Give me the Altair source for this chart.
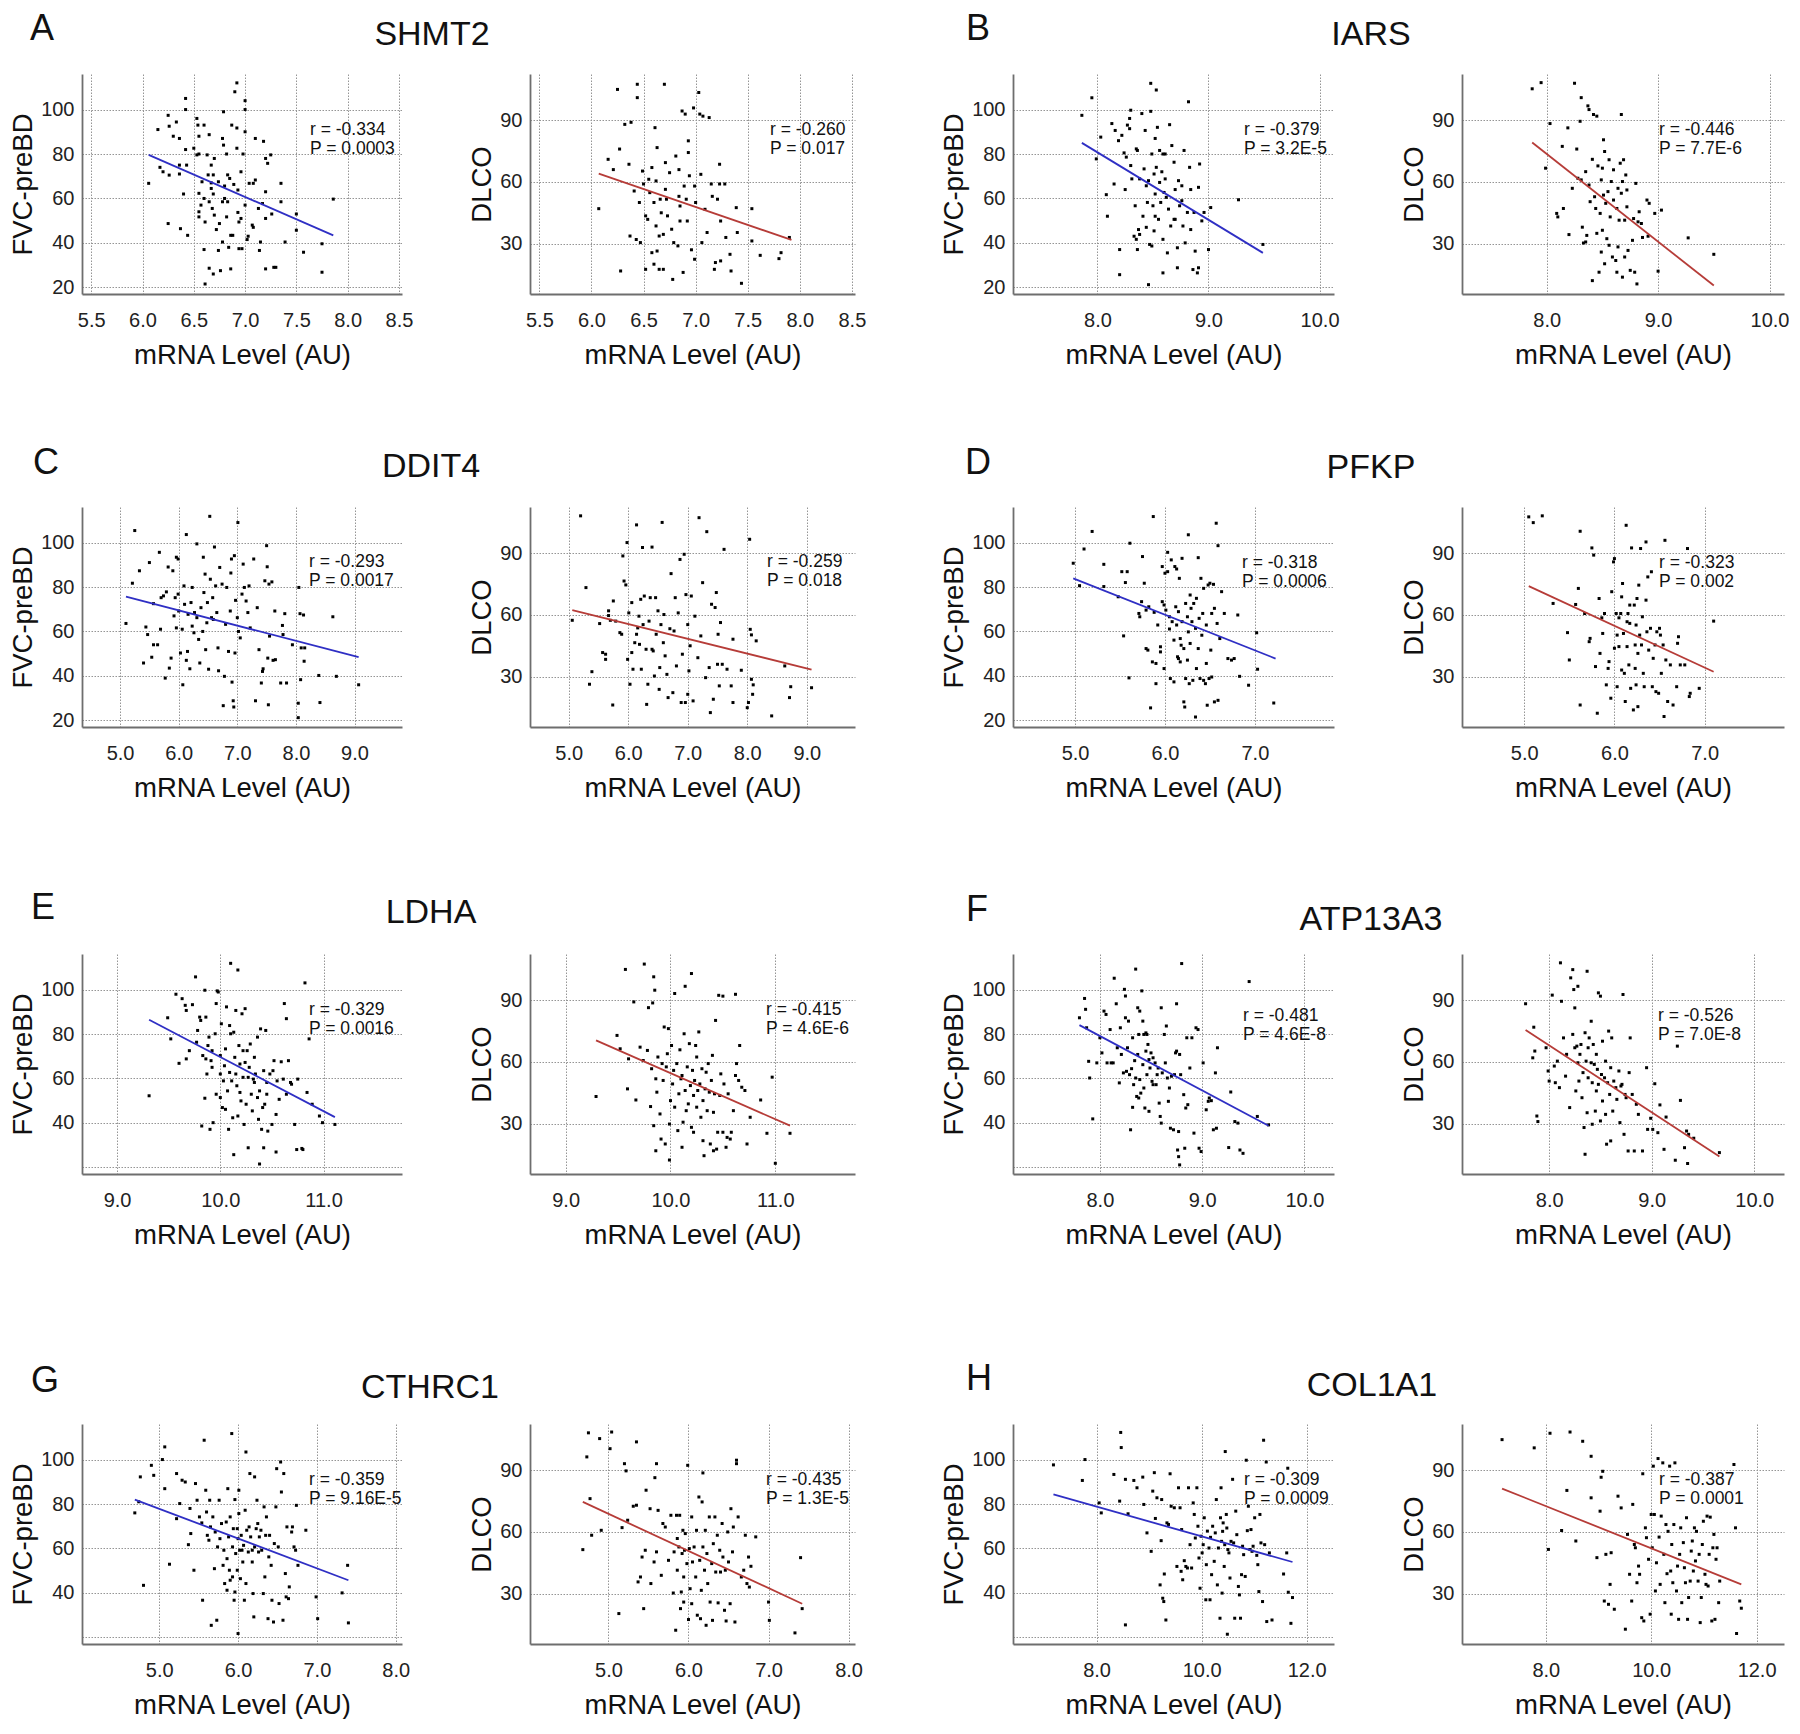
import altair as alt
import pandas as pd

FONT = "Liberation Sans"

# ---------------- values: (mRNA level, FVC-preBD / DLCO) ----------------
A_FVC = [(6.06,66.8),(6.15,91),(6.17,74),(6.2,72),(6.25,97.4),(6.26,92.5),(6.26,70.5),(6.25,48.7),(6.3,88),(6.33,94.4),(6.36,87),(6.36,75),(6.36,71),(6.37,46.4),(6.4,62),(6.42,105),(6.42,100),(6.42,82),(6.43,75),(6.44,43.4),(6.5,82.6),(6.53,96),(6.53,79.6),(6.54,93),(6.55,88),(6.55,80),(6.55,62.3),(6.55,54),(6.55,51.7),(6.57,57),(6.58,67.5),(6.6,93),(6.6,60),(6.6,37),(6.61,21.5),(6.61,49.4),(6.63,79.6),(6.64,70.6),(6.65,28.6),(6.65,88.7),(6.65,58.5),(6.67,75),(6.67,67),(6.67,64.5),(6.68,55.5),(6.69,26),(6.69,70.6),(6.69,62),(6.7,78),(6.7,52.5),(6.72,46),(6.74,36.6),(6.74,67.5),(6.75,48.7),(6.76,27.5),(6.78,87),(6.78,58.5),(6.78,40.4),(6.79,84),(6.79,99),(6.8,65.6),(6.8,60),(6.82,51.7),(6.82,80),(6.83,70.6),(6.83,58.5),(6.84,38),(6.85,69),(6.86,43.4),(6.86,28.3),(6.87,93),(6.88,43.4),(6.89,66.3),(6.9,108),(6.92,112),(6.92,91.7),(6.92,82.6),(6.93,63.8),(6.93,53.7),(6.94,37.4),(6.94,49.4),(6.96,72),(6.96,51),(6.97,37.4),(6.98,80),(7.0,104),(7.0,100),(7.0,90),(7.0,57),(7.02,41.5),(7.03,43),(7.04,66.8),(7.07,48),(7.08,66.8),(7.08,47),(7.1,87),(7.1,68.3),(7.13,55.5),(7.14,36.6),(7.15,40.4),(7.17,57.7),(7.18,85.7),(7.2,78),(7.2,63),(7.2,51),(7.2,28.3),(7.22,75.8),(7.25,79.6),(7.26,53),(7.28,29),(7.3,29),(7.35,66.8),(7.35,58.5),(7.39,40.4),(7.5,53),(7.5,45.7),(7.57,35.8),(7.75,39.6),(7.75,26.8),(7.86,59.7)]
A_DLCO = [(6.07,47),(6.16,71),(6.21,66),(6.25,105),(6.27,76),(6.28,16.7),(6.32,88),(6.36,68.6),(6.37,33.7),(6.38,89),(6.41,55.6),(6.43,32),(6.44,101),(6.44,107.5),(6.46,50),(6.47,30.5),(6.49,65.3),(6.5,59),(6.52,17.5),(6.52,43.5),(6.54,41.8),(6.55,61.3),(6.56,54.8),(6.58,67),(6.58,25.6),(6.6,20),(6.6,50),(6.61,86.4),(6.62,38.6),(6.62,60.5),(6.63,76.7),(6.63,26.4),(6.65,33.7),(6.65,17.5),(6.66,51.6),(6.67,45),(6.69,17.5),(6.69,34.5),(6.7,107.5),(6.71,69.4),(6.71,56.4),(6.72,51.6),(6.73,43.5),(6.75,64.5),(6.77,37),(6.78,12.6),(6.79,30.5),(6.81,72.6),(6.83,28.9),(6.84,66),(6.84,53),(6.85,48.3),(6.85,41),(6.87,94.5),(6.88,16),(6.89,58),(6.9,93),(6.91,51.6),(6.92,41),(6.93,80),(6.93,74.3),(6.94,63),(6.96,27),(6.98,96),(6.99,22.4),(6.99,58),(7.0,50),(7.03,103.5),(7.04,93),(7.05,63.7),(7.06,30.5),(7.07,92),(7.09,46.7),(7.11,35.4),(7.13,91.3),(7.15,59),(7.16,53),(7.18,17.5),(7.19,20.8),(7.21,51.6),(7.23,59),(7.23,68.6),(7.24,21.6),(7.24,41),(7.28,59),(7.29,33),(7.33,24.8),(7.34,16.7),(7.39,47.5),(7.4,35.4),(7.44,10.7),(7.54,47),(7.54,31.3),(7.62,24.3),(7.8,22.7),(7.82,25.6),(7.9,33)]
B_FVC = [(7.86,97.4),(7.95,105.3),(7.99,77.8),(8.03,87.6),(8.08,61.7),(8.09,52),(8.13,93.7),(8.15,66.5),(8.16,90.6),(8.19,86),(8.2,37),(8.2,25.7),(8.22,88.4),(8.24,80.5),(8.25,64),(8.26,78.6),(8.27,93),(8.29,91.4),(8.29,96),(8.3,99.7),(8.3,74.8),(8.31,68.8),(8.33,43),(8.34,56.7),(8.35,41.6),(8.35,82.3),(8.36,81.6),(8.36,37),(8.37,46),(8.38,68.8),(8.38,43.8),(8.4,98.2),(8.41,52),(8.42,73.3),(8.43,90.6),(8.44,65.7),(8.44,47),(8.45,58.2),(8.46,21.2),(8.46,68),(8.47,39.3),(8.48,99.2),(8.48,111.8),(8.49,38.6),(8.49,80),(8.5,56.7),(8.51,71),(8.51,45.4),(8.52,62),(8.52,52),(8.52,87),(8.53,108.8),(8.53,74),(8.54,92),(8.55,50.6),(8.56,81.6),(8.56,67.2),(8.57,58.2),(8.58,72),(8.59,26.5),(8.59,80),(8.59,41.6),(8.6,62.7),(8.61,80),(8.61,68.8),(8.62,60.5),(8.63,35.5),(8.64,55.2),(8.65,93.2),(8.66,47.6),(8.67,83.8),(8.69,76.3),(8.69,50.6),(8.7,64),(8.7,50.6),(8.72,28.8),(8.72,37.8),(8.73,68),(8.74,56.7),(8.76,65.7),(8.76,59),(8.77,47.6),(8.78,81.6),(8.79,40),(8.81,53.7),(8.82,103.5),(8.83,74),(8.84,46),(8.84,64),(8.86,28),(8.87,53.7),(8.88,36.3),(8.9,26.5),(8.91,28.8),(8.91,65),(8.92,75.5),(8.94,49.9),(8.96,53.7),(9.0,37),(9.02,55.9),(9.27,59.4),(9.49,39.3)]
B_DLCO = [(7.87,105.3),(7.95,108.3),(7.99,66.7),(8.03,88.4),(8.09,44.7),(8.1,43),(8.14,77.3),(8.15,47.1),(8.19,86.3),(8.2,34.4),(8.23,56.9),(8.25,108),(8.27,76),(8.28,61.8),(8.3,89.5),(8.31,101),(8.31,61),(8.32,38),(8.33,30.3),(8.35,65),(8.35,30.8),(8.36,34),(8.37,97),(8.38,58.5),(8.38,95.2),(8.39,50.4),(8.41,12),(8.41,71),(8.42,92.8),(8.43,52.8),(8.44,47.1),(8.45,92),(8.45,35),(8.46,67.8),(8.47,16.1),(8.48,44.7),(8.49,61),(8.49,25.9),(8.5,36.5),(8.5,66.7),(8.51,53.6),(8.51,80.5),(8.52,74.8),(8.52,20.2),(8.53,49.6),(8.54,32.4),(8.55,55.3),(8.56,70.8),(8.56,29.2),(8.57,43),(8.58,60.2),(8.59,23.5),(8.6,51.2),(8.6,65.9),(8.62,21.8),(8.63,47.1),(8.63,16.1),(8.64,56.9),(8.64,28.4),(8.65,41.4),(8.66,69.1),(8.67,54.5),(8.67,92.8),(8.68,13.7),(8.68,60.2),(8.69,70.8),(8.7,41.4),(8.7,23.5),(8.71,63.4),(8.72,47.9),(8.72,56.1),(8.73,26.7),(8.75,17),(8.77,31.6),(8.78,42.2),(8.79,16.1),(8.8,59.3),(8.81,10.4),(8.82,40.6),(8.83,45.5),(8.85,39.8),(8.86,33),(8.9,51.2),(8.91,33.6),(8.92,49.6),(8.97,44.7),(9.0,16.6),(9.03,46.3),(9.27,32.8),(9.5,24.8)]
C_FVC = [(5.1,63.6),(5.21,81.7),(5.25,105.4),(5.33,87.3),(5.4,45.8),(5.44,62),(5.47,58.6),(5.5,91),(5.54,48.4),(5.57,72.5),(5.57,54),(5.64,54),(5.67,95.6),(5.69,61),(5.7,75.2),(5.74,76),(5.77,39),(5.79,77.8),(5.82,89),(5.84,43.5),(5.87,48),(5.9,87.3),(5.92,67),(5.94,75.2),(5.96,93.4),(5.96,61.6),(5.99,92.6),(5.99,76.8),(6.0,69.2),(6.03,50.3),(6.06,61),(6.07,36),(6.09,80.5),(6.1,72.2),(6.13,103.6),(6.13,47),(6.15,51),(6.16,67.7),(6.19,43.2),(6.21,73),(6.23,79.8),(6.23,62.4),(6.26,59.4),(6.27,68.5),(6.31,99.4),(6.31,66.2),(6.34,56.4),(6.36,45.8),(6.38,70.7),(6.41,60),(6.42,93.4),(6.43,77.5),(6.45,85.8),(6.46,51.8),(6.48,63.9),(6.49,73),(6.51,43),(6.53,111.8),(6.54,83.5),(6.56,66.2),(6.58,75.2),(6.59,65.4),(6.61,98),(6.63,80.5),(6.65,68.5),(6.67,52.6),(6.68,42.3),(6.7,88.8),(6.74,81.3),(6.76,26.6),(6.78,39.8),(6.8,63.2),(6.82,79.8),(6.85,51),(6.88,69.2),(6.89,86.3),(6.9,92.6),(6.91,37.2),(6.93,28.8),(6.94,26),(6.95,94.1),(6.96,50.3),(6.97,74),(7.0,66.2),(7.01,109),(7.02,60),(7.05,57.1),(7.08,76.8),(7.1,90.3),(7.12,79.8),(7.15,73.7),(7.18,68.5),(7.2,80.5),(7.22,61.6),(7.28,92.6),(7.31,28.8),(7.34,70.7),(7.37,51.8),(7.41,36.8),(7.43,42),(7.44,43.2),(7.47,82.8),(7.5,98.6),(7.51,89.1),(7.52,48),(7.53,27),(7.54,81.3),(7.55,57.9),(7.59,82.3),(7.61,47),(7.64,69.2),(7.65,47.3),(7.74,36.8),(7.77,62.7),(7.78,58.6),(7.81,68),(7.84,36.8),(7.94,54),(8.04,27.7),(8.04,21.2),(8.05,79.8),(8.07,68),(8.08,38.3),(8.09,52.6),(8.13,67.4),(8.14,46.6),(8.15,52.6),(8.39,40.2),(8.41,28),(8.63,66.6),(8.69,39.8),(9.07,36)]
C_DLCO = [(5.06,57.4),(5.2,108.2),(5.29,73.3),(5.35,26.3),(5.39,32.4),(5.52,55.8),(5.57,41.7),(5.62,38.4),(5.62,40.9),(5.67,62),(5.67,59.7),(5.7,57.4),(5.74,16.2),(5.75,66.8),(5.79,57),(5.86,51.4),(5.89,50.6),(5.91,88.7),(5.93,76.5),(5.96,74.6),(5.98,95.2),(5.99,38.4),(6.01,61),(6.03,26.3),(6.06,41.7),(6.06,66),(6.08,33.6),(6.11,46.5),(6.14,50.6),(6.14,103.8),(6.16,53.7),(6.18,59.4),(6.19,45.7),(6.21,67.6),(6.22,33.6),(6.24,92.8),(6.25,55.3),(6.27,69.2),(6.3,43.3),(6.31,16.5),(6.33,26.3),(6.35,57),(6.37,68.4),(6.4,93),(6.4,43.3),(6.42,42.5),(6.44,30.3),(6.46,68.4),(6.47,50.6),(6.5,62),(6.52,23.8),(6.53,34.4),(6.55,55.3),(6.57,105),(6.59,46.5),(6.6,60.2),(6.62,40.1),(6.65,31.1),(6.67,19.8),(6.7,53.3),(6.72,80.1),(6.75,22.2),(6.77,52.2),(6.79,68.4),(6.81,35.2),(6.84,61),(6.87,87),(6.89,17.4),(6.91,40.9),(6.94,89.5),(6.96,17.4),(6.97,69.9),(7.0,55.3),(7.0,21.4),(7.02,32.8),(7.04,45),(7.06,69.2),(7.09,18.2),(7.12,59.4),(7.17,39.2),(7.19,107.3),(7.22,49.8),(7.25,75.7),(7.3,29.5),(7.32,100.5),(7.36,34.4),(7.38,12.5),(7.4,65.2),(7.43,19),(7.46,63.6),(7.48,70.9),(7.5,36),(7.51,50.6),(7.53,25.5),(7.55,56.3),(7.58,36),(7.61,91.9),(7.66,33.6),(7.73,25.5),(7.76,17.4),(7.76,48.2),(7.9,33.1),(8.0,14.9),(8.02,17.4),(8.04,96.8),(8.05,53),(8.07,50.3),(8.07,28.7),(8.09,21.4),(8.1,26),(8.15,47.4),(8.41,10.9),(8.63,35.2),(8.71,19.8),(8.73,25.1),(9.08,24.6)]
D_FVC = [(4.98,90.7),(5.05,80.6),(5.1,97.1),(5.19,105),(5.32,90.2),(5.32,80.2),(5.48,75.6),(5.52,86.9),(5.54,58),(5.56,82),(5.58,86.9),(5.6,39.1),(5.61,99.7),(5.71,68.1),(5.72,66.6),(5.74,73.4),(5.75,93.7),(5.77,81.7),(5.79,52.3),(5.79,69.6),(5.81,51.6),(5.82,71.1),(5.84,25.6),(5.86,46.3),(5.87,111.7),(5.88,68.6),(5.9,36.5),(5.9,45.6),(5.92,62.9),(5.95,53.1),(5.95,50.8),(5.97,73.4),(5.97,89.2),(5.99,71.9),(5.99,43.3),(6.0,86.2),(6.01,69.6),(6.03,86.9),(6.03,95.6),(6.05,66.6),(6.05,61.1),(6.06,38.8),(6.07,92.2),(6.08,64.4),(6.1,37.3),(6.1,56.1),(6.11,89.2),(6.12,71.1),(6.13,88.1),(6.13,62.9),(6.14,48.6),(6.15,47.8),(6.15,68.9),(6.16,83.9),(6.17,56.8),(6.17,46.3),(6.18,53.8),(6.19,92.9),(6.19,64.4),(6.21,28.3),(6.21,52.3),(6.22,26.0),(6.23,72.6),(6.23,38.8),(6.25,66.6),(6.25,47.1),(6.26,103.5),(6.26,59.8),(6.27,36.5),(6.28,76.4),(6.28,54.6),(6.29,70.4),(6.3,64.4),(6.31,38),(6.32,72.6),(6.34,61.4),(6.34,21.5),(6.35,43.3),(6.35,74.9),(6.37,93.2),(6.37,52.3),(6.38,65.9),(6.39,38.8),(6.4,83.9),(6.41,58.3),(6.42,68.1),(6.43,79.4),(6.43,38),(6.45,36.5),(6.46,62.9),(6.46,45.6),(6.47,26.8),(6.48,80.9),(6.49,38.8),(6.5,81.7),(6.51,51.6),(6.52,68.1),(6.52,39.5),(6.54,81.2),(6.55,28.3),(6.55,70.4),(6.57,108.7),(6.58,63.6),(6.59,98.6),(6.59,29),(6.61,56.8),(6.63,77.9),(6.66,68.1),(6.7,47.8),(6.74,47.1),(6.77,47.8),(6.81,67.4),(6.83,39.8),(6.93,35.8),(7.02,59.4),(7.03,43),(7.21,27.8)]
D_DLCO = [(5.05,107.7),(5.1,104.9),(5.2,108.2),(5.32,65.6),(5.48,51.4),(5.5,38.1),(5.57,65.1),(5.6,72.9),(5.62,16.2),(5.62,100.7),(5.67,60.7),(5.72,47),(5.73,48.6),(5.75,92.6),(5.77,89.1),(5.79,34.9),(5.81,12.2),(5.83,68),(5.84,41.3),(5.86,58.6),(5.87,51),(5.89,60.7),(5.91,26),(5.93,34),(5.94,37.3),(5.96,19.5),(5.97,71.3),(5.99,85.8),(6.0,43.8),(6.0,87.4),(6.02,60.7),(6.03,25.1),(6.03,50.2),(6.05,58.6),(6.05,44.6),(6.07,60.7),(6.08,68.8),(6.08,33.2),(6.09,75.3),(6.1,51),(6.11,31.6),(6.12,17.9),(6.13,103.6),(6.14,56.7),(6.14,44.6),(6.15,60.7),(6.16,35.7),(6.17,55.9),(6.17,64.8),(6.18,24.3),(6.19,92.6),(6.21,13.8),(6.22,64.8),(6.23,34),(6.23,45.4),(6.24,26),(6.24,55.1),(6.25,68),(6.26,41.3),(6.26,15.4),(6.27,74.5),(6.28,50.2),(6.29,92.3),(6.3,45.4),(6.31,59.1),(6.32,31.6),(6.33,25.1),(6.35,67.2),(6.35,95.5),(6.36,51.8),(6.37,78.5),(6.38,42.9),(6.4,53.5),(6.41,81),(6.42,25.1),(6.43,38.9),(6.45,45.4),(6.46,22.7),(6.47,51.8),(6.49,21.9),(6.5,53.5),(6.51,50.2),(6.52,31.6),(6.54,45.4),(6.55,10.6),(6.56,96.3),(6.57,38.1),(6.59,17.9),(6.62,35.7),(6.65,16.2),(6.69,25.1),(6.7,46.2),(6.71,49.4),(6.73,35.7),(6.78,35.7),(6.81,92.3),(6.83,20.3),(6.84,21.9),(6.94,24.3),(7.1,57)]
E_FVC = [(9.31,52.2),(9.49,87.3),(9.52,77.8),(9.57,97.9),(9.6,66.8),(9.63,95.9),(9.66,92.9),(9.67,90.6),(9.67,68.8),(9.7,72.5),(9.73,93.2),(9.76,105.7),(9.77,76.3),(9.78,81.6),(9.8,87.6),(9.81,86.1),(9.82,38.6),(9.83,70.3),(9.85,99.7),(9.85,51.1),(9.86,87.6),(9.86,68.8),(9.87,62),(9.88,74.8),(9.89,78.6),(9.9,37.1),(9.91,68),(9.92,72.5),(9.92,65),(9.93,40.1),(9.95,80.1),(9.96,52.9),(9.96,93.7),(9.97,99.4),(9.98,98.9),(10.0,62),(10.0,70.3),(10.0,51.4),(10.01,84.6),(10.02,46.9),(10.03,58.9),(10.04,65.7),(10.05,73.3),(10.05,46.1),(10.06,92.2),(10.07,54.4),(10.08,37.1),(10.09,83.8),(10.09,62.7),(10.1,111.8),(10.1,80.1),(10.11,58.9),(10.12,42.3),(10.13,25.7),(10.13,80.8),(10.14,69.5),(10.15,90.6),(10.15,62),(10.16,56.7),(10.17,43.1),(10.17,108.8),(10.18,74.8),(10.19,66.5),(10.19,53.7),(10.2,49.9),(10.21,89.1),(10.22,72.5),(10.22,60.5),(10.23,39.3),(10.24,91.4),(10.24,67.2),(10.25,48.4),(10.26,72.5),(10.27,28.8),(10.27,60.5),(10.28,65),(10.29,75.5),(10.3,52.9),(10.31,45.4),(10.32,59.7),(10.33,69.5),(10.33,58.2),(10.34,62),(10.36,78.6),(10.36,51.4),(10.37,41.6),(10.38,54.4),(10.38,21.5),(10.39,82.3),(10.4,37.1),(10.41,46.9),(10.42,28.8),(10.42,63.5),(10.43,48.4),(10.44,81.6),(10.45,52.9),(10.45,58.2),(10.46,36.3),(10.48,62),(10.5,39.3),(10.51,63.5),(10.52,68),(10.54,26.9),(10.54,43.8),(10.55,58.9),(10.57,50.6),(10.59,67.5),(10.61,59.7),(10.62,93.7),(10.64,86.9),(10.64,52.9),(10.66,68),(10.68,58.2),(10.69,57.4),(10.72,39.3),(10.74,28),(10.75,59.7),(10.79,28.5),(10.8,28),(10.82,103),(10.84,53.7),(10.86,77.8),(10.89,48.4),(10.96,43.1),(10.99,40.1),(11.11,39.3)]
E_DLCO = [(9.29,43.2),(9.49,72.9),(9.52,66.4),(9.57,105),(9.59,46.9),(9.6,61.5),(9.65,89.2),(9.67,41.5),(9.71,67.2),(9.74,60.7),(9.75,107.6),(9.78,65.6),(9.79,86.4),(9.81,38.3),(9.82,56.7),(9.83,88.7),(9.84,29),(9.84,101.4),(9.85,94.9),(9.86,16.8),(9.86,51.8),(9.87,45.3),(9.88,62.4),(9.9,34.7),(9.91,22.5),(9.92,59.2),(9.93,51),(9.94,77),(9.95,20.1),(9.96,57.6),(9.97,64),(9.98,76.2),(9.99,29.8),(9.99,12.3),(10.0,41.2),(10.01,68),(10.02,49.3),(10.03,55.9),(10.04,38),(10.04,93.3),(10.06,59.2),(10.07,26.6),(10.08,44.5),(10.09,65.9),(10.1,51.8),(10.11,18.5),(10.11,53.4),(10.12,30.7),(10.13,73.7),(10.14,96.8),(10.14,46.1),(10.15,36.3),(10.16,57.6),(10.17,39.6),(10.18,68.9),(10.19,48.5),(10.2,103),(10.2,28.2),(10.21,55.9),(10.22,43.7),(10.22,25.8),(10.23,51),(10.24,68),(10.25,38),(10.25,62.4),(10.26,46.1),(10.27,74.6),(10.28,49.3),(10.29,33.1),(10.3,56.7),(10.31,21.7),(10.31,41.2),(10.32,14.4),(10.33,46.9),(10.34,55),(10.35,36.3),(10.36,59.2),(10.37,45.3),(10.38,20.1),(10.39,51),(10.4,63.2),(10.41,16.8),(10.41,35.5),(10.42,44.5),(10.43,80.2),(10.44,17.6),(10.45,25.8),(10.46,92.4),(10.47,43.7),(10.48,54.2),(10.5,25.8),(10.5,92),(10.51,49.3),(10.53,18.5),(10.54,23.3),(10.55,44.5),(10.57,22.5),(10.58,25.8),(10.6,36.3),(10.62,53.4),(10.62,92.9),(10.63,59.2),(10.65,51),(10.66,68),(10.68,47.7),(10.71,46.1),(10.73,20.1),(10.76,33.1),(10.86,41.5),(10.92,25.3),(10.97,52.6),(11.0,10.7),(11.14,25.3)]
F_FVC = [(7.8,87.3),(7.85,96),(7.86,91.1),(7.87,82.8),(7.89,67.7),(7.9,60.2),(7.93,41.8),(7.97,67),(8.0,78.3),(8.02,71.5),(8.04,90.3),(8.06,88.8),(8.07,67),(8.1,82),(8.11,67),(8.13,67),(8.14,105.1),(8.16,93.6),(8.17,73.8),(8.19,58),(8.2,82.8),(8.21,70.8),(8.23,62.5),(8.24,100.1),(8.25,97.1),(8.25,87.3),(8.26,63.2),(8.27,73.8),(8.28,85.8),(8.29,61.7),(8.3,36.9),(8.31,64.4),(8.32,78.3),(8.32,47),(8.33,57.2),(8.34,68),(8.35,60.2),(8.35,109.2),(8.36,51.9),(8.37,91.8),(8.37,70.8),(8.38,51.2),(8.38,79.8),(8.39,59.5),(8.39,90.3),(8.4,53.4),(8.41,99.4),(8.42,66.2),(8.42,85.8),(8.43,55.7),(8.43,79.8),(8.44,46.7),(8.45,72.3),(8.45,80.5),(8.46,61.7),(8.46,79.8),(8.47,75.3),(8.48,68.5),(8.48,45.2),(8.49,64.7),(8.5,71.5),(8.51,58.7),(8.52,69.3),(8.52,57.2),(8.54,67),(8.55,57.2),(8.56,61.7),(8.57,64.7),(8.58,48.9),(8.59,42.9),(8.6,91.8),(8.6,39.9),(8.61,62.5),(8.63,79.8),(8.64,67),(8.65,83.6),(8.66,60.2),(8.67,49.7),(8.68,55.7),(8.69,37.6),(8.7,61),(8.72,36.9),(8.73,61.7),(8.74,71.5),(8.75,93.6),(8.75,72.3),(8.76,27.8),(8.77,36.1),(8.77,24.8),(8.78,21.1),(8.78,70.8),(8.79,61.7),(8.8,111.7),(8.82,52.7),(8.83,28.6),(8.84,46.7),(8.85,78.3),(8.86,48.2),(8.88,64.7),(8.9,78.3),(8.92,35.4),(8.94,82.8),(8.96,82),(8.97,28.6),(8.99,27.1),(9.01,67),(9.04,45.9),(9.06,49.7),(9.07,51.2),(9.09,50),(9.11,36.9),(9.13,62.5),(9.14,37.6),(9.15,73.8),(9.26,28.9),(9.28,53.9),(9.32,40.6),(9.35,39.9),(9.37,27.8),(9.4,26.3),(9.46,103.6),(9.54,42.9),(9.65,39.1)]
F_DLCO = [(7.77,88.3),(7.84,62),(7.85,76.9),(7.86,65.3),(7.88,33.7),(7.89,31),(7.97,66.9),(7.99,55.6),(8.0,50.7),(8.03,92.5),(8.05,58),(8.06,49.9),(8.08,60.4),(8.1,47.5),(8.11,108.2),(8.12,89.5),(8.14,71.7),(8.16,53.1),(8.17,63.7),(8.2,37.8),(8.21,100.9),(8.23,104.9),(8.23,73.4),(8.24,95.2),(8.25,66.9),(8.25,86.3),(8.26,45.9),(8.27,67.7),(8.28,96.8),(8.28,59.6),(8.29,50.7),(8.3,63.7),(8.31,68.5),(8.32,42.6),(8.33,54.8),(8.34,28.1),(8.35,74.2),(8.35,15.1),(8.36,60.4),(8.37,104.1),(8.37,35.3),(8.38,66.9),(8.38,52.3),(8.39,71.7),(8.41,79.8),(8.41,59.6),(8.42,29.7),(8.42,49.9),(8.43,68.5),(8.44,58.8),(8.45,36.1),(8.46,45.9),(8.46,63.7),(8.47,56.4),(8.48,93.6),(8.48,49.1),(8.5,92),(8.5,31.3),(8.51,53.9),(8.52,70.1),(8.52,41),(8.54,52.3),(8.55,34.5),(8.55,60.4),(8.56,20),(8.57,49.9),(8.58,75),(8.59,44.2),(8.6,21.6),(8.6,57.2),(8.61,71.7),(8.62,36.1),(8.63,50.7),(8.65,47.5),(8.66,41.8),(8.68,55.6),(8.69,30.5),(8.7,48.3),(8.71,49.1),(8.72,92.8),(8.73,24.8),(8.74,44.2),(8.75,42.6),(8.77,16.7),(8.78,54.8),(8.79,71.7),(8.81,44.2),(8.83,16.7),(8.85,39.4),(8.87,34.5),(8.91,16.7),(8.95,57.2),(8.96,27.2),(8.99,32.6),(9.01,27.2),(9.03,49.4),(9.06,25.6),(9.08,39.1),(9.12,17.5),(9.14,33.2),(9.23,12.2),(9.25,67.7),(9.28,41.3),(9.32,18.3),(9.34,26.4),(9.35,10.6),(9.36,24.8),(9.41,22.9),(9.66,15.9)]
G_FVC = [(4.69,76),(4.74,81),(4.76,92.2),(4.8,43.4),(4.9,97.4),(4.93,92.9),(5.04,100),(5.07,105.7),(5.07,86.9),(5.13,52.9),(5.22,93.7),(5.22,73.4),(5.26,80.2),(5.29,90.7),(5.33,89.9),(5.37,61.7),(5.39,78),(5.4,66.7),(5.44,50.2),(5.46,89.2),(5.48,81.7),(5.51,74.2),(5.54,71.5),(5.55,36.7),(5.57,108.7),(5.59,86.2),(5.6,76.4),(5.61,65.9),(5.63,63.7),(5.64,81.7),(5.65,69.7),(5.66,25.4),(5.68,74.2),(5.7,50.9),(5.71,67.4),(5.73,27.7),(5.74,60.7),(5.76,81.7),(5.77,64.4),(5.79,71.2),(5.81,52.4),(5.82,59.2),(5.83,44.2),(5.85,71.9),(5.86,55.4),(5.86,41.2),(5.87,86.9),(5.88,65.2),(5.89,50.2),(5.9,74.2),(5.9,45.7),(5.92,111.7),(5.93,60.7),(5.93,47.2),(5.94,68.9),(5.95,36.7),(5.96,82),(5.96,40.4),(5.97,57.7),(5.99,68.9),(5.99,50.2),(6.0,21.7),(6.0,64.4),(6.01,86.2),(6.01,75.7),(6.02,59.2),(6.03,46.4),(6.04,65.9),(6.05,59.2),(6.06,53.9),(6.07,61.4),(6.08,36.7),(6.09,77.2),(6.1,103.4),(6.1,44.2),(6.11,68.2),(6.13,58.4),(6.14,69.7),(6.15,93.7),(6.16,65.2),(6.18,59.2),(6.18,53.9),(6.19,39.7),(6.2,29.2),(6.21,92.2),(6.21,60.7),(6.23,68.9),(6.24,81.7),(6.25,71.2),(6.26,58.4),(6.27,65.2),(6.29,68.2),(6.3,59.2),(6.32,39.7),(6.33,78.7),(6.34,47.2),(6.35,65.9),(6.36,74.2),(6.38,28.4),(6.39,56.2),(6.4,65.9),(6.42,52.4),(6.43,36.7),(6.45,26.9),(6.46,62.2),(6.48,78.7),(6.49,95.9),(6.51,60.7),(6.52,35.2),(6.54,98.9),(6.55,85.4),(6.57,27.7),(6.58,93.7),(6.6,48.7),(6.61,38.2),(6.62,69.7),(6.64,37.4),(6.65,42.7),(6.68,67.4),(6.69,69.7),(6.71,60.7),(6.73,59.2),(6.74,79.4),(6.76,52.4),(6.86,68.2),(6.99,38.2),(7.01,28.4),(7.32,40),(7.39,52.4),(7.4,26.5)]
G_DLCO = [(4.68,51.4),(4.73,96.5),(4.75,108.2),(4.77,76.2),(4.79,58.4),(4.89,105.4),(4.91,60.8),(5.02,100.5),(5.04,108.6),(5.13,20.3),(5.17,62.1),(5.2,93.2),(5.22,89.7),(5.24,65.7),(5.31,72.5),(5.35,103.8),(5.35,73),(5.37,35.7),(5.4,38.1),(5.42,47.8),(5.44,22.7),(5.46,51.1),(5.47,80.3),(5.52,71.3),(5.53,34.9),(5.57,45.4),(5.58,86.4),(5.6,93.2),(5.6,50.3),(5.62,70.5),(5.66,38.9),(5.68,64.1),(5.71,62.4),(5.75,46.2),(5.78,68.1),(5.81,30.3),(5.82,50.3),(5.84,12.2),(5.85,68.1),(5.86,41.4),(5.86,56.8),(5.88,52.7),(5.89,68.1),(5.9,22.7),(5.91,30.8),(5.92,49.5),(5.93,60.8),(5.94,25.9),(5.94,38.1),(5.95,51.1),(5.96,59.2),(5.98,44.6),(5.99,92.4),(6.0,17.4),(6.01,51.9),(6.02,32.4),(6.04,67.3),(6.04,25.1),(6.05,45.4),(6.07,52.7),(6.09,38.1),(6.1,60.8),(6.11,19.5),(6.13,77),(6.14,46.2),(6.15,17.8),(6.16,31.6),(6.17,74.6),(6.18,88.7),(6.18,52.7),(6.2,41.4),(6.21,60.8),(6.22,14.6),(6.23,49.5),(6.24,34.9),(6.26,67.3),(6.27,25.9),(6.29,44.6),(6.3,17),(6.31,54.3),(6.33,67.3),(6.34,40.5),(6.36,58.4),(6.37,25.5),(6.39,51.1),(6.4,40.5),(6.42,64.1),(6.43,47.8),(6.45,21.9),(6.46,41.4),(6.47,16.7),(6.49,60),(6.5,45.4),(6.52,25.1),(6.53,71.3),(6.55,50.3),(6.56,62.4),(6.58,16.2),(6.6,93.2),(6.6,94.9),(6.62,67.3),(6.66,38.1),(6.69,41.4),(6.71,58.4),(6.73,34.9),(6.75,47.8),(6.76,33.2),(6.78,43.3),(6.84,57.6),(7.0,25.9),(7.01,17),(7.33,10.9),(7.4,47.5),(7.42,22.7)]
H_FVC = [(7.18,97.6),(7.73,90.6),(7.78,100),(8.05,80.5),(8.09,76),(8.33,93.3),(8.44,81.3),(8.46,112.2),(8.47,105.4),(8.55,91.1),(8.55,25.6),(8.6,75.6),(8.71,90.6),(8.77,87.3),(8.88,92.1),(8.9,79.8),(8.96,67),(9.04,58.7),(9.07,85.8),(9.1,94.1),(9.12,73.5),(9.15,82.8),(9.21,43.6),(9.23,63.5),(9.24,82),(9.26,37.6),(9.28,36.1),(9.29,48.5),(9.32,27.8),(9.34,71.5),(9.37,70.8),(9.4,93.6),(9.42,79),(9.48,78.3),(9.53,51.9),(9.56,87.3),(9.59,78.3),(9.61,49.7),(9.62,68.5),(9.64,45.9),(9.67,54.5),(9.7,51.9),(9.73,51.2),(9.75,87.3),(9.78,61.7),(9.81,51.2),(9.84,80.5),(9.86,75.3),(9.88,64.7),(9.91,87.3),(9.93,70),(9.95,55.7),(9.97,42.1),(9.99,65.5),(10.01,58),(10.03,61.7),(10.05,73.8),(10.08,36.9),(10.09,52.7),(10.11,67.8),(10.14,60.2),(10.16,36.9),(10.17,65),(10.19,48.2),(10.21,70),(10.24,54.2),(10.26,67),(10.28,82),(10.3,43.6),(10.32,60.2),(10.35,28.6),(10.36,73.8),(10.37,87.3),(10.38,63.2),(10.39,39.9),(10.4,67.7),(10.41,71.5),(10.43,51.9),(10.44,61.7),(10.45,103.6),(10.47,75.3),(10.48,69.2),(10.49,21.4),(10.5,59.5),(10.52,58),(10.54,46.7),(10.56,63.2),(10.59,91.1),(10.61,62.5),(10.63,28.6),(10.65,76.8),(10.67,66.2),(10.7,42.9),(10.72,39.1),(10.74,28.6),(10.76,48.2),(10.78,61),(10.8,57.2),(10.83,47.4),(10.85,99.7),(10.87,68),(10.89,79),(10.92,59.5),(10.94,68.5),(10.96,58.7),(10.98,61),(11.01,73.8),(11.05,56.9),(11.07,52.7),(11.09,40.6),(11.11,75.3),(11.13,62.5),(11.16,36.1),(11.18,108.7),(11.2,61.7),(11.23,98.9),(11.24,27.1),(11.29,58),(11.34,27.8),(11.56,48.5),(11.62,58),(11.64,96.1),(11.65,40.3),(11.7,26.3),(11.73,37.9)]
H_DLCO = [(7.17,104.9),(7.78,100.9),(8.05,51.5),(8.08,108),(8.3,60.7),(8.4,80.2),(8.46,108.6),(8.57,55.6),(8.7,104.1),(8.86,96.8),(8.86,76.6),(8.97,47.5),(9.03,70.1),(9.05,86.6),(9.08,89.5),(9.11,26.4),(9.14,49.1),(9.19,24.8),(9.22,34.5),(9.24,49.9),(9.3,22.4),(9.37,77.4),(9.43,71.7),(9.51,12.7),(9.55,58.8),(9.59,39.4),(9.63,26.4),(9.65,73.4),(9.68,53.9),(9.7,52.3),(9.73,35.3),(9.76,43.4),(9.78,39.4),(9.82,18.3),(9.84,88.3),(9.86,16.7),(9.89,62),(9.91,57.2),(9.95,46.7),(9.98,20),(10.0,68.5),(10.02,52.3),(10.04,92),(10.06,68.5),(10.08,31.3),(10.1,45),(10.13,95.7),(10.15,57.5),(10.17,34.5),(10.19,67.7),(10.22,93.6),(10.24,49.1),(10.26,25.6),(10.28,63.6),(10.3,39.7),(10.32,60.3),(10.35,92),(10.37,41),(10.38,20),(10.39,53.9),(10.41,35.3),(10.43,63.6),(10.45,93.6),(10.48,31.3),(10.5,43.4),(10.52,17.5),(10.54,49.1),(10.56,62),(10.58,25.6),(10.61,54.8),(10.63,42.6),(10.65,35.3),(10.67,66.9),(10.69,17.5),(10.71,28.1),(10.74,36.1),(10.76,50.7),(10.78,55.6),(10.8,41),(10.82,62),(10.84,45.9),(10.86,60.3),(10.89,36.1),(10.91,49.1),(10.93,15.9),(10.95,28.1),(10.97,53.9),(10.99,65.2),(11.02,39.4),(11.04,34.5),(11.06,67.7),(11.08,33.7),(11.1,49.1),(11.12,67.2),(11.15,16.7),(11.17,52.3),(11.19,58.8),(11.21,17.5),(11.23,46.7),(11.25,52.3),(11.28,25.6),(11.3,36.1),(11.57,92.8),(11.6,62),(11.62,10.6),(11.68,26.4),(11.71,22.9)]

# fitted lines, (x start, y start, x end, y end) for FVC and DLCO
FIT_FVC = {"A": (6.06,79.6,7.86,43.4), "B": (7.86,85,9.49,35.5), "C": (5.1,75.7,9.07,48.4), "D": (4.98,83.9,7.23,47.8),
           "E": (9.31,86.4,11.11,42.6), "F": (7.8,84,9.65,38.7), "G": (4.69,82,7.4,45.7), "H": (7.18,84.3,11.73,53.9)}
FIT_DLCO = {"A": (6.07,64,7.92,31.8), "B": (7.87,79.2,9.5,9.6), "C": (5.06,62.4,9.08,33.4), "D": (5.05,74,7.1,32.4),
            "E": (9.29,70.5,11.14,29), "F": (7.77,75.5,9.66,14), "G": (4.68,74.6,7.42,25.1), "H": (7.17,81.1,11.71,34.5)}
STAT_FVC = {"A": ("r = -0.334","P = 0.0003"), "B": ("r = -0.379","P = 3.2E-5"), "C": ("r = -0.293","P = 0.0017"),
            "D": ("r = -0.318","P = 0.0006"), "E": ("r = -0.329","P = 0.0016"), "F": ("r = -0.481","P = 4.6E-8"),
            "G": ("r = -0.359","P = 9.16E-5"), "H": ("r = -0.309","P = 0.0009")}
STAT_DLCO = {"A": ("r = -0.260","P = 0.017"), "B": ("r = -0.446","P = 7.7E-6"), "C": ("r = -0.259","P = 0.018"),
             "D": ("r = -0.323","P = 0.002"), "E": ("r = -0.415","P = 4.6E-6"), "F": ("r = -0.526","P = 7.0E-8"),
             "G": ("r = -0.435","P = 1.3E-5"), "H": ("r = -0.387","P = 0.0001")}
GENES = {"A": "SHMT2", "B": "IARS", "C": "DDIT4", "D": "PFKP", "E": "LDHA", "F": "ATP13A3", "G": "CTHRC1", "H": "COL1A1"}
X_TICKS = {"A": [5.5,6.0,6.5,7.0,7.5,8.0,8.5], "B": [8.0,9.0,10.0], "C": [5.0,6.0,7.0,8.0,9.0], "D": [5.0,6.0,7.0],
           "E": [9.0,10.0,11.0], "F": [8.0,9.0,10.0], "G": [5.0,6.0,7.0,8.0], "H": [8.0,10.0,12.0]}
X_DOMAIN = {"A": [5.41,8.53], "B": [7.24,10.13], "C": [4.35,9.81], "D": [4.31,7.88],
            "E": [8.66,11.76], "F": [7.15,10.29], "G": [4.02,8.08], "H": [6.41,12.52]}
FVC_TICKS = [20, 40, 60, 80, 100]
DLCO_TICKS = [30, 60, 90]
SHOW_FVC_20 = {"A": True, "B": True, "C": True, "D": True, "E": False, "F": False, "G": False, "H": False}
POINTS = {"A": (A_FVC, A_DLCO), "B": (B_FVC, B_DLCO), "C": (C_FVC, C_DLCO), "D": (D_FVC, D_DLCO),
          "E": (E_FVC, E_DLCO), "F": (F_FVC, F_DLCO), "G": (G_FVC, G_DLCO), "H": (H_FVC, H_DLCO)}

# ---------------- layout / style ----------------
PLOT_H = 220
W_LEFT_GROUP = (320, 325)
W_RIGHT_GROUP = (321, 322)
GAP_IN_GROUP = 128
GAP_GROUPS = 158
ROW_GAPS = [213, 227, 250]
STAT_X = {"A": (228, 240), "B": (231, 197), "C": (227, 237), "D": (229, 197),
          "E": (227, 236), "F": (230, 196), "G": (227, 236), "H": (231, 197)}
STAT_Y = {"A": 61, "B": 61, "C": 60, "D": 61, "E": 61, "F": 67, "G": 61, "H": 61}
LETTER_POS = {"A": (-52, -34), "B": (-47, -34), "C": (-49, -33), "D": (-48, -33),
              "E": (-51, -35), "F": (-47, -33), "G": (-51, -32), "H": (-47, -34)}
TITLE_POS = {"A": (350, -29), "B": (358, -29), "C": (349, -30), "D": (358, -29),
             "E": (349, -31), "F": (358, -24), "G": (348, -26), "H": (359, -28)}
BLUE = "#2f2fc4"
RED = "#b63c38"


def one_text(txt, x, y, size, align="left"):
    return alt.Chart(pd.DataFrame({"t": [txt]})).mark_text(
        align=align, baseline="alphabetic", font=FONT, fontSize=size, color="#111"
    ).encode(x=alt.value(x), y=alt.value(y), text="t:N")


def panel(key, kind, width, header):
    if kind == "fvc":
        pts, fit, stat = POINTS[key][0], FIT_FVC[key], STAT_FVC[key]
        ydom, yticks, ytitle, color = [17, 116], FVC_TICKS, "FVC-preBD", BLUE
        lab_expr = "datum.label" if SHOW_FVC_20[key] else "datum.value == 20 ? '' : datum.label"
        tx = STAT_X[key][0]
    else:
        pts, fit, stat = POINTS[key][1], FIT_DLCO[key], STAT_DLCO[key]
        ydom, yticks, ytitle, color = [5.5, 112.5], DLCO_TICKS, "DLCO", RED
        lab_expr = "datum.label"
        tx = STAT_X[key][1]
    ty = STAT_Y[key]
    xenc = alt.X("x:Q", scale=alt.Scale(domain=X_DOMAIN[key], nice=False, zero=False),
                 axis=alt.Axis(values=X_TICKS[key], format=".1f", title="mRNA Level (AU)",
                               labelPadding=16, titlePadding=11, labelFlush=False, labelOverlap=False))
    yenc = alt.Y("y:Q", scale=alt.Scale(domain=ydom, nice=False, zero=False),
                 axis=alt.Axis(values=yticks, title=ytitle, labelExpr=lab_expr,
                               labelPadding=8, titlePadding=3, labelFlush=False, labelOverlap=False))
    df = pd.DataFrame(pts, columns=["x", "y"])
    dots = alt.Chart(df).mark_square(size=9, color="#000", opacity=1).encode(x=xenc, y=yenc)
    fdf = pd.DataFrame({"x": [fit[0], fit[2]], "y": [fit[1], fit[3]]})
    line = alt.Chart(fdf).mark_line(color=color, strokeWidth=1.8).encode(x=xenc, y=yenc)
    layers = [dots, line, one_text(stat[0], tx, ty, 17.5), one_text(stat[1], tx, ty + 19, 17.5)]
    if header:
        lx, ly = LETTER_POS[key]
        gx, gy = TITLE_POS[key]
        layers.append(one_text(key, lx, ly, 36))
        layers.append(one_text(GENES[key], gx, gy, 34, align="center"))
    return alt.layer(*layers).properties(width=width, height=PLOT_H)


def spacer(w, h):
    return alt.Chart(pd.DataFrame({"a": [0]})).mark_point(opacity=0, size=1).encode(
        x=alt.value(0), y=alt.value(0)).properties(width=w, height=h)


rows = [("A", "B"), ("C", "D"), ("E", "F"), ("G", "H")]
cells = []
for i, (lk, rk) in enumerate(rows):
    cells += [
        panel(lk, "fvc", W_LEFT_GROUP[0], True), spacer(GAP_IN_GROUP, 1),
        panel(lk, "dlco", W_LEFT_GROUP[1], False), spacer(GAP_GROUPS, 1),
        panel(rk, "fvc", W_RIGHT_GROUP[0], True), spacer(GAP_IN_GROUP, 1),
        panel(rk, "dlco", W_RIGHT_GROUP[1], False),
    ]
    if i < 3:
        cells += [spacer(1, ROW_GAPS[i]) for _ in range(7)]

chart = alt.concat(*cells, columns=7, spacing=0, bounds="flush", align="each").properties(
    padding={"left": 1, "top": 3, "right": 0, "bottom": 0}, background="white"
).configure_view(strokeWidth=0).configure_axis(
    labelFont=FONT, titleFont=FONT, labelFontSize=20, titleFontSize=27.5, titleFontWeight="normal",
    labelColor="#222", titleColor="#111", domainColor="#6e6e6e", domainWidth=1.8,
    grid=True, gridColor="#959595", gridDash=[1.5, 1.5], gridWidth=1, ticks=False, tickSize=0,
)

chart.save("out.html", embed_options={"renderer": "svg", "actions": False})
